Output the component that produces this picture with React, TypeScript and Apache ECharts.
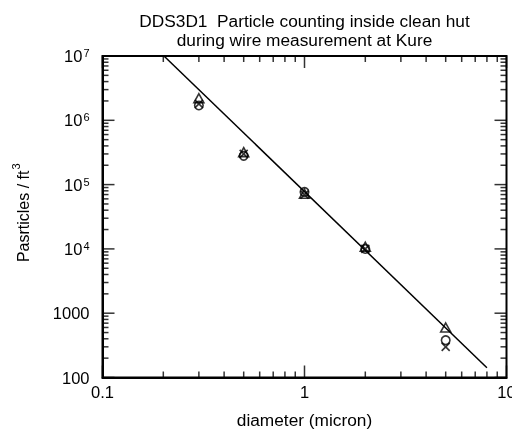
import React, { useEffect, useRef } from "react";
import * as echarts from "echarts";

const titleLines = ["DDS3D1  Particle counting inside clean hut", "during wire measurement at Kure"];
const xName = "diameter (micron)";
const yName = "{b|Pasrticles / ft}{s|3}";
const X_MIN = 0.1;
const X_MAX = 10;
const Y_MIN = 100;
const Y_MAX = 1e7;

const diameters = [0.3, 0.5, 1, 2, 5];
const triangleValues = [2.2e6, 3.2e5, 7.2e4, 1.08e4, 600];
const circleValues = [1.7e6, 2.8e5, 7.7e4, 1.0e4, 380];
const crossValues = [1.8e6, 3.0e5, 7.0e4, 1.0e4, 300];

const fitLine = [
  [0.2015, 1e7],
  [8.0, 142],
];

const xMajorTicks = [0.1, 1, 10];
const yMajorTicks = [100, 1000, 1e4, 1e5, 1e6, 1e7];
const xMinorTicks = [0.2, 0.3, 0.4, 0.5, 0.6, 0.7, 0.8, 0.9, 2, 3, 4, 5, 6, 7, 8, 9];
const yMinorTicks: number[] = [];
[100, 1000, 1e4, 1e5, 1e6].forEach((d) => {
  for (let k = 2; k <= 9; k++) yMinorTicks.push(k * d);
});

const FONT = "Liberation Sans, Arial, Helvetica, sans-serif";
const BLACK = "#000000";
const TICK_W = 1.5;

function tickMarks(values: number[], side: string, len: number) {
  let data: number[][];
  let size: number[];
  let offset: number[];
  if (side === "bottom") {
    data = values.map((v) => [v, Y_MIN]);
    size = [TICK_W, len];
    offset = [0, -len / 2];
  } else if (side === "top") {
    data = values.map((v) => [v, Y_MAX]);
    size = [TICK_W, len];
    offset = [0, len / 2];
  } else if (side === "left") {
    data = values.map((v) => [X_MIN, v]);
    size = [len, TICK_W];
    offset = [len / 2, 0];
  } else {
    data = values.map((v) => [X_MAX, v]);
    size = [len, TICK_W];
    offset = [-len / 2, 0];
  }
  return {
    type: "scatter",
    data,
    symbol: "rect",
    symbolSize: size,
    symbolOffset: offset,
    clip: false,
    itemStyle: { color: BLACK },
  };
}

export default function App() {
  const ref = useRef<HTMLDivElement>(null);
  useEffect(() => {
    if (!ref.current) return;
    const chart = echarts.init(ref.current, undefined, { renderer: "svg" });

    const pair = (xs: number[], ys: number[]) => xs.map((x, i) => [x, ys[i]]);

    const yLabelFmt = (v: number) => {
      const e = Math.round(Math.log10(v));
      if (e >= 4) return `{b|10}{s|${e}}`;
      return `{n|${Math.round(v)}}`;
    };
    const xLabelFmt = (v: number) => String(Number(v.toPrecision(6)));

    const tickSeries: any[] = [];
    ["bottom", "top"].forEach((s) => {
      tickSeries.push(tickMarks(xMajorTicks, s, 12));
      tickSeries.push(tickMarks(xMinorTicks, s, 6));
    });
    ["left", "right"].forEach((s) => {
      tickSeries.push(tickMarks(yMajorTicks, s, 12));
      tickSeries.push(tickMarks(yMinorTicks, s, 6));
    });

    const option: any = {
      animation: false,
      title: {
        text: titleLines.join("\n"),
        left: 299.5,
        top: 6,
        textAlign: "center",
        textStyle: { fontSize: 17.3, fontWeight: "normal", color: BLACK, fontFamily: FONT, lineHeight: 19 },
      },
      grid: {
        left: 102.5,
        right: 5.5,
        top: 56,
        bottom: 52.5,
        outerBoundsMode: "none",
        show: true,
        borderColor: BLACK,
        borderWidth: 2,
        backgroundColor: "transparent",
      },
      xAxis: {
        type: "log",
        min: X_MIN,
        max: X_MAX,
        name: xName,
        nameLocation: "middle",
        nameGap: 34,
        nameTextStyle: { fontSize: 17.3, color: BLACK, fontFamily: FONT },
        axisLine: { show: true, lineStyle: { color: BLACK, width: 2 } },
        axisTick: { show: false },
        splitLine: { show: false },
        axisLabel: { formatter: xLabelFmt, fontSize: 16.5, color: BLACK, margin: 6, fontFamily: FONT },
      },
      yAxis: {
        type: "log",
        min: Y_MIN,
        max: Y_MAX,
        name: yName,
        nameLocation: "middle",
        nameGap: 67,
        nameRotate: 90,
        nameTextStyle: {
          color: BLACK,
          fontFamily: FONT,
          fontSize: 16,
          padding: [0, 0, 0, 8],
          rich: {
            b: { fontSize: 16, fontFamily: FONT, color: BLACK },
            s: { fontSize: 11, fontFamily: FONT, color: BLACK, padding: [0, 0, 14, 1] },
          },
        },
        axisLine: { show: true, lineStyle: { color: BLACK, width: 2 } },
        axisTick: { show: false },
        splitLine: { show: false },
        axisLabel: {
          formatter: yLabelFmt,
          color: BLACK,
          margin: 13,
          fontFamily: FONT,
          rich: {
            b: { fontSize: 16.5, fontFamily: FONT, color: BLACK, lineHeight: 17, verticalAlign: "bottom", padding: [6, 0, 0, 0] },
            s: { fontSize: 11, fontFamily: FONT, color: BLACK, lineHeight: 11, verticalAlign: "top", padding: [0, 0, 0, 1] },
            n: { fontSize: 16.5, fontFamily: FONT, color: BLACK, lineHeight: 17 },
          },
        },
      },
      series: [
        ...tickSeries,
        {
          type: "line",
          data: fitLine,
          showSymbol: false,
          symbol: "none",
          lineStyle: { color: BLACK, width: 1.5 },
        },
        {
          type: "scatter",
          data: pair(diameters, triangleValues),
          symbol: "triangle",
          symbolSize: [10, 9],
          itemStyle: { color: "rgba(0,0,0,0)", borderColor: BLACK, borderWidth: 1.6 },
        },
        {
          type: "scatter",
          data: pair(diameters, circleValues),
          symbol: "circle",
          symbolSize: 8.5,
          itemStyle: { color: "rgba(0,0,0,0)", borderColor: BLACK, borderWidth: 1.6 },
        },
        {
          type: "scatter",
          data: pair(diameters, crossValues),
          symbol: "path://M0,0L10,10M10,0L0,10",
          symbolSize: 8,
          itemStyle: { color: "rgba(0,0,0,0)", borderColor: BLACK, borderWidth: 1.6 },
        },
      ],
    };

    chart.setOption(option);
    return () => chart.dispose();
  }, []);

  return <div ref={ref} style={{ position: "fixed", left: 0, top: 0, width: 512, height: 430 }} />;
}
